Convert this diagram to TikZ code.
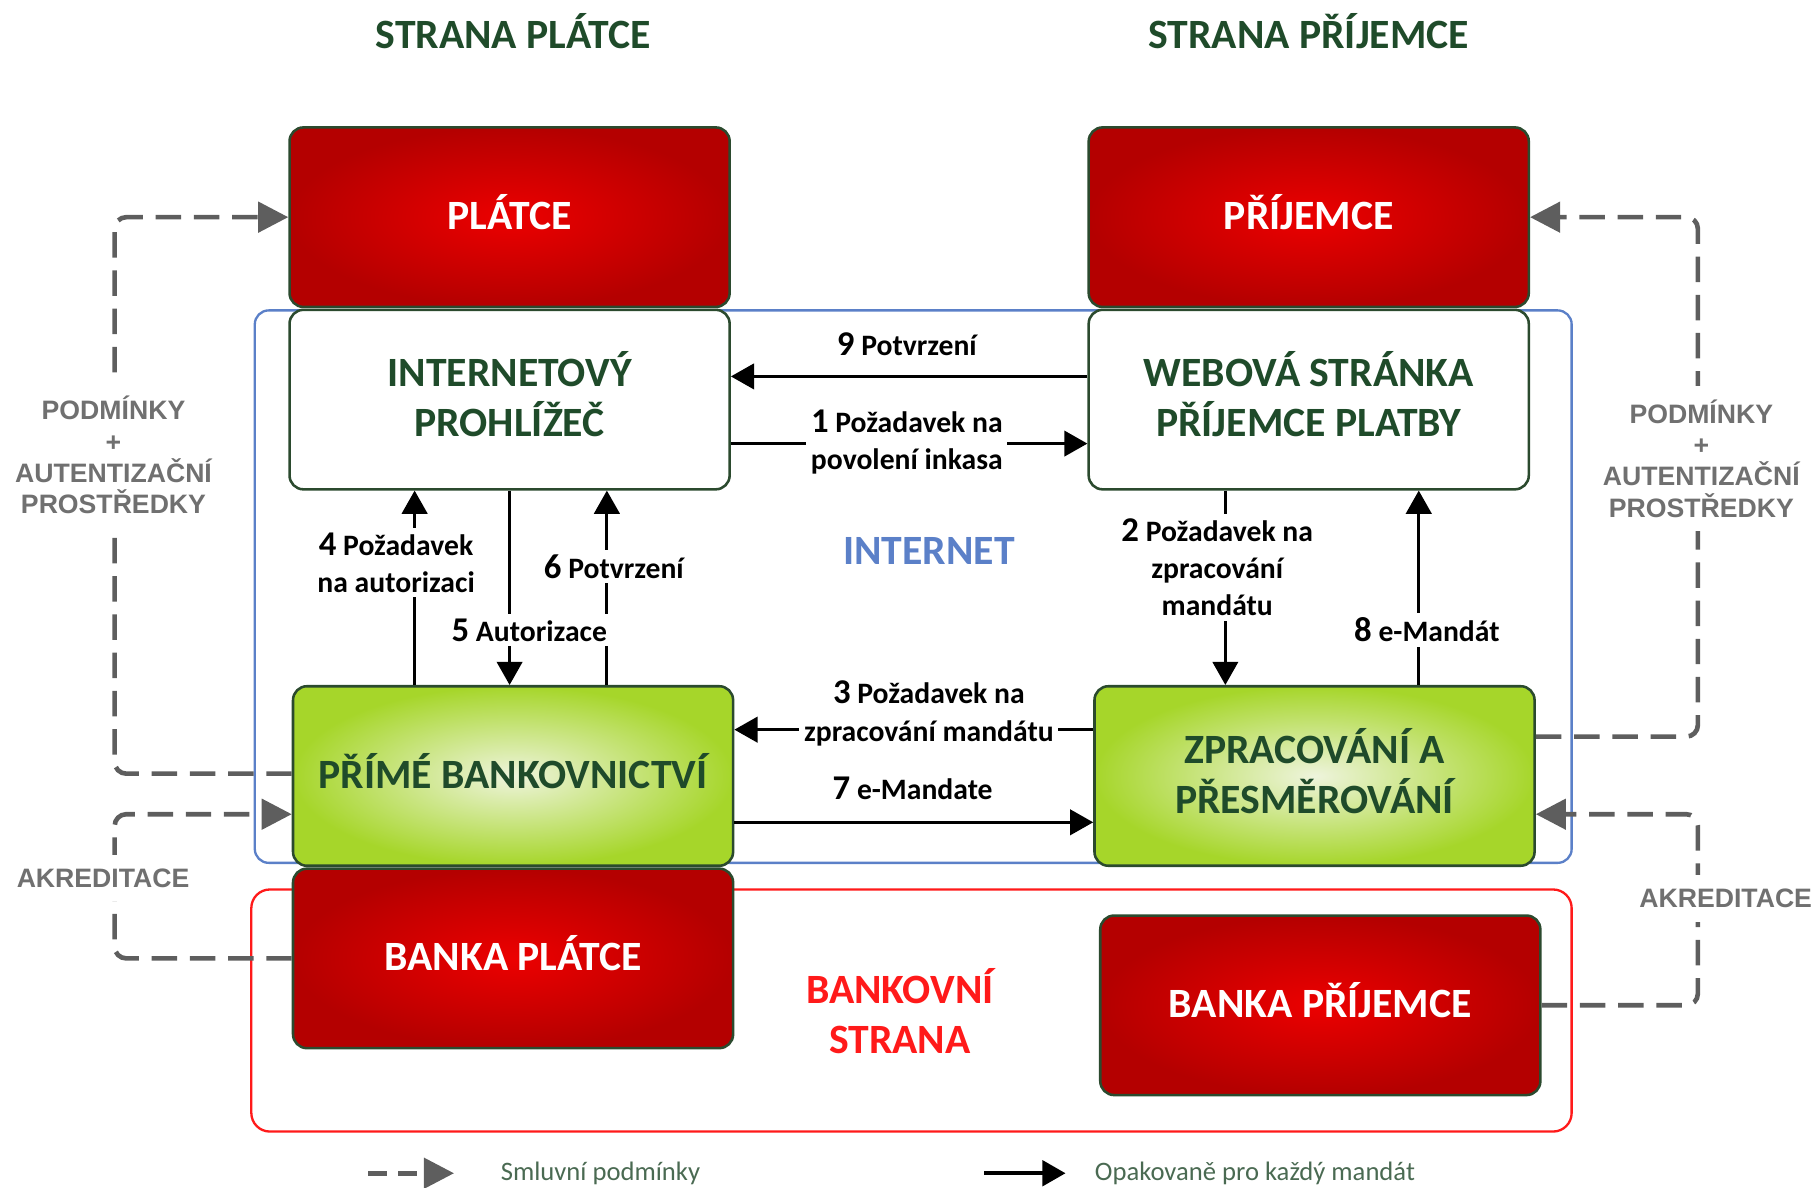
\documentclass[tikz,border=0pt]{standalone}
\usepackage{fontspec}
\setmainfont{Carlito}
\newfontfamily\grayfont{Liberation Sans}
\usetikzlibrary{arrows.meta}
\definecolor{titlegreen}{HTML}{1F4B2A}
\definecolor{boxrim}{HTML}{2B4A2E}
\definecolor{redin}{HTML}{EC0000}
\definecolor{redout}{HTML}{B40000}
\definecolor{greenin}{HTML}{EEF4DC}
\definecolor{greenout}{HTML}{A6D62A}
\definecolor{netblue}{HTML}{5B80C8}
\definecolor{bankred}{HTML}{FF1A1A}
\definecolor{dashgray}{HTML}{5E5E5E}
\definecolor{notegray}{HTML}{707070}
\definecolor{legendgreen}{HTML}{4A6A52}
\newcommand{\nr}[1]{{\fontsize{15}{16}\selectfont #1}}

\begin{document}
\begin{tikzpicture}[x=0.5pt,y=0.5pt]
\tikzstyle{every node}+=[inner sep=0pt, font=\bfseries]
\tikzstyle{headline}=[font=\fontsize{18}{21.5}\selectfont\bfseries, align=center]
\tikzstyle{party}=[draw=boxrim, line width=1.1pt, rounded corners=6pt, minimum width=190pt, minimum height=77.5pt, text depth=4.5pt, headline]
\tikzstyle{redbox}=[party, shading=radial, inner color=redin, outer color=redout, text=white]
\tikzstyle{whitebox}=[party, fill=white, text=titlegreen]
\tikzstyle{greenbox}=[party, shading=radial, inner color=greenin, outer color=greenout, text=titlegreen]
\tikzstyle{flow}=[black, line width=1.2pt, -{Triangle[length=10pt,width=11pt]}]
\tikzstyle{contract}=[dashgray, line width=2pt, dash pattern=on 11pt off 5.5pt, rounded corners=5pt, -{Triangle[length=13pt,width=13pt]}]
\tikzstyle{steplabel}=[fill=white, inner sep=2pt, align=center, font=\fontsize{12.8}{16}\selectfont\bfseries]
\tikzstyle{sidelabel}=[fill=white, inner xsep=2pt, inner ysep=6pt, align=center, text=notegray, font=\grayfont\fontsize{11.5}{13.5}\selectfont\bfseries]
\tikzstyle{keytext}=[legendgreen, anchor=west, font=\fontsize{11.5}{14}\selectfont]
\useasboundingbox (0,0) rectangle (1568,-1025);
\draw [netblue, line width=1pt, rounded corners=6pt] (220,-268) rectangle (1357,-745);
\draw [bankred, line width=1pt, rounded corners=8pt] (217,-768) rectangle (1357,-977);
\node [headline, text=titlegreen] (payerside) at (443,-27) {STRANA PLÁTCE};
\node [headline, text=titlegreen] (payeeside) at (1130,-27) {STRANA PŘÍJEMCE};
\node [redbox] (platce) at (440,-187.5) {PLÁTCE};
\node [redbox] (prijemce) at (1130,-187.5) {PŘÍJEMCE};
\node [whitebox] (prohlizec) at (440,-345) {INTERNETOVÝ\\PROHLÍŽEČ};
\node [whitebox] (webova) at (1130,-345) {WEBOVÁ STRÁNKA\\PŘÍJEMCE PLATBY};
\node [greenbox] (prime) at (443,-670) {PŘÍMÉ BANKOVNICTVÍ};
\node [greenbox] (zprac) at (1135,-670) {ZPRACOVÁNÍ A\\PŘESMĚROVÁNÍ};
\node [redbox] (bankaP) at (443,-827.5) {BANKA PLÁTCE};
\node [redbox] (bankaR) at (1140,-868) {BANKA PŘÍJEMCE};
\node [headline, text=netblue] (internet) at (802,-476) {INTERNET};
\node [headline, text=bankred] (bankside) at (777,-873) {BANKOVNÍ\\STRANA};
\draw [flow] ([yshift=10pt]webova.west) -- ([yshift=10pt]prohlizec.east);
\draw [flow] ([yshift=-19pt]prohlizec.east) -- ([yshift=-19pt]webova.west);
\draw [flow] ([xshift=-42.5pt]prime.north) -- ([xshift=-42.5pt]prime.north |- prohlizec.south);
\draw [flow] (prohlizec.south) -- (prohlizec.south |- prime.north);
\draw [flow] ([xshift=40.5pt]prime.north) -- ([xshift=40.5pt]prime.north |- prohlizec.south);
\draw [flow] ([xshift=-36pt]webova.south) -- ([xshift=-36pt]webova.south |- zprac.north);
\draw [flow] ([xshift=45pt]zprac.north) -- ([xshift=45pt]zprac.north |- webova.south);
\draw [flow] ([yshift=20pt]zprac.west) -- ([yshift=20pt]prime.east);
\draw [flow] ([yshift=-20pt]prime.east) -- ([yshift=-20pt]zprac.west);
\coordinate (leftrail) at (99,0);
\coordinate (rightrail) at (1466,0);
\draw [contract] ([yshift=1pt]prime.west) -- ([yshift=1pt]prime.west -| leftrail) |- (platce.west);
\draw [contract] (bankaP.west) -- (bankaP.west -| leftrail) |- ([yshift=-16.5pt]prime.west);
\draw [contract] ([yshift=17pt]zprac.east) -- ([yshift=17pt]zprac.east -| rightrail) |- (prijemce.east);
\draw [contract] (bankaR.east) -- (bankaR.east -| rightrail) |- ([yshift=-16.5pt]zprac.east);
\node [sidelabel] (termsL) at (98,-393) {PODMÍNKY\\+\\AUTENTIZAČNÍ\\PROSTŘEDKY};
\node [sidelabel] (accredL) at (89,-758) {AKREDITACE};
\node [sidelabel] (termsR) at (1469,-396) {PODMÍNKY\\+\\AUTENTIZAČNÍ\\PROSTŘEDKY};
\node [sidelabel] (accredR) at (1490,-776) {AKREDITACE};
\node [steplabel] (l9) at (783,-297) {\nr{9} Potvrzení};
\node [steplabel] (l1) at (783,-382) {\nr{1} Požadavek na\\povolení inkasa};
\node [steplabel] (l4) at (342,-486) {\nr{4} Požadavek\\na autorizaci};
\node [steplabel] (l5) at (457,-544) {\nr{5} Autorizace};
\node [steplabel] (l6) at (530,-489) {\nr{6} Potvrzení};
\node [steplabel] (l2) at (1051,-490) {\nr{2} Požadavek na\\zpracování\\mandátu};
\node [steplabel] (l8) at (1232,-544) {\nr{8} e-Mandát};
\node [steplabel] (l3) at (802,-616) {\nr{3} Požadavek na\\zpracování mandátu};
\node [steplabel] (l7) at (788,-681) {\nr{7} e-Mandate};
\coordinate (keyDashA) at (318,-1013);
\coordinate (keyDashB) at (392,-1013);
\draw [contract, dash pattern=on 8pt off 5pt] (keyDashA) -- (keyDashB);
\node [keytext] (keyDash) at (432,-1013) {Smluvní podmínky};
\coordinate (keySolidA) at (850,-1013);
\coordinate (keySolidB) at (920,-1013);
\draw [flow, line width=1.6pt] (keySolidA) -- (keySolidB);
\node [keytext] (keySolid) at (945,-1013) {Opakovaně pro každý mandát};
\end{tikzpicture}
\end{document}
